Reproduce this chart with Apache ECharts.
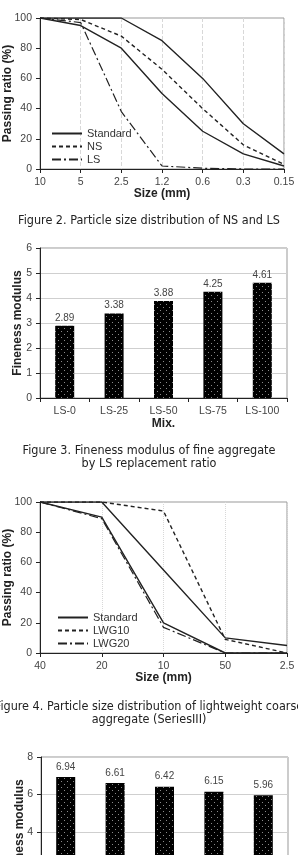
<!DOCTYPE html>
<html lang="en">
<head>
    <meta charset="utf-8">
    <title>ECharts</title>
    <script src="https://cdn.jsdelivr.net/npm/echarts@6/dist/echarts.min.js"></script>
    <style>
        html, body {margin: 0; padding: 0; background: #fff;}
        #main {width: 298px; height: 855px;}
    </style>
</head>
<body>
<div id="main"></div>
<script type="text/javascript">
    // Figure 2 data: fine aggregate grading
    var sizesFine = ['10', '5', '2.5', '1.2', '0.6', '0.3', '0.15'];
    var stdFineUpper = [100, 100, 100, 85, 60, 30, 10];
    var stdFineLower = [100, 95, 80, 50, 25, 10, 2];
    var nsPass = [100, 99, 88, 66, 40, 16, 3];
    var lsPass = [100, 97, 38, 2, 0.5, 0, 0];

    // Figure 3 data: fineness modulus vs LS ratio
    var mixFine = ['LS-0', 'LS-25', 'LS-50', 'LS-75', 'LS-100'];
    var fmFine = [2.89, 3.38, 3.88, 4.25, 4.61];

    // Figure 4 data: lightweight coarse aggregate grading
    var sizesCoarse = ['40', '20', '10', '50', '2.5'];
    var stdCoarseUpper = [100, 100, 55, 10, 5];
    var stdCoarseLower = [100, 90, 20, 0, 0];
    var lwg10Pass = [100, 100, 94, 9, 0];
    var lwg20Pass = [100, 89, 17, 0, 0];

    // bottom (cut off) bar chart
    var mixCoarse = ['A', 'B', 'C', 'D', 'E'];
    var fmCoarse = [6.94, 6.61, 6.42, 6.15, 5.96];

    var font = 'Liberation Sans, Arial, sans-serif';
    var capFont = '"Liberation Sans Narrow", "DejaVu Sans Condensed", "Noto Sans CJK KR", sans-serif';

    // black bar fill with little grey dots
    function dotPattern() {
        var c = document.createElement('canvas');
        c.width = 6; c.height = 6;
        var g = c.getContext('2d');
        g.fillStyle = '#000';
        g.fillRect(0, 0, 6, 6);
        g.fillStyle = '#8a8a8a';
        g.fillRect(1, 1, 1, 1);
        g.fillRect(4, 4, 1, 1);
        return c;
    }
    var dots = {image: dotPattern(), repeat: 'repeat'};

    var axisLbl = {color: '#444', fontSize: 10.5, fontFamily: font};
    var nameStyle = {color: '#222', fontSize: 12, fontWeight: 'bold', fontFamily: font};

    function lineAxisX(idx, data, splitType) {
        return {
            type: 'category', gridIndex: idx, data: data, boundaryGap: false,
            axisLine: {lineStyle: {color: '#222', width: 1}},
            axisTick: {show: true, length: 4, lineStyle: {color: '#222'}},
            axisLabel: axisLbl,
            splitLine: {show: true, lineStyle: {color: '#d8d8d8', type: splitType}},
            name: 'Size (mm)', nameLocation: 'middle', nameGap: 19, nameTextStyle: nameStyle,
            nameMoveOverlap: false
        };
    }
    function barAxisX(idx, data, name) {
        return {
            type: 'category', gridIndex: idx, data: data,
            axisLine: {lineStyle: {color: '#222', width: 1}},
            axisTick: {show: true, length: 4, lineStyle: {color: '#222'}},
            axisLabel: axisLbl,
            name: name, nameLocation: 'middle', nameGap: 20, nameTextStyle: nameStyle,
            nameMoveOverlap: false
        };
    }
    function valAxisY(idx, max, interval, name, split, gap) {
        return {
            type: 'value', gridIndex: idx, min: 0, max: max, interval: interval,
            axisLine: {show: true, lineStyle: {color: '#222', width: 1}},
            axisTick: {show: true, length: 4, lineStyle: {color: '#222'}},
            axisLabel: axisLbl,
            splitLine: {show: split, lineStyle: {color: '#cfcfcf'}},
            name: name, nameLocation: 'middle', nameGap: gap, nameTextStyle: nameStyle,
            nameMoveOverlap: false
        };
    }

    var solid = {color: '#222', width: 1.4, type: 'solid'};
    var dash = {color: '#222', width: 1.4, type: [4, 3]};
    var dashDot = {color: '#222', width: 1.2, type: [9, 3, 2, 3]};

    function lineS(name, x, y, data, ls) {
        return {
            name: name, type: 'line', xAxisIndex: x, yAxisIndex: y, data: data,
            symbol: 'none', lineStyle: ls, itemStyle: {color: '#222'}, z: 3
        };
    }
    function barS(x, y, data, dist) {
        return {
            type: 'bar', xAxisIndex: x, yAxisIndex: y, data: data, barWidth: 19,
            itemStyle: {color: dots},
            label: {show: true, position: 'top', distance: dist, color: '#444', fontSize: 10, fontFamily: font}
        };
    }

    var gridBox = {show: true, borderColor: '#999', borderWidth: 1, backgroundColor: 'transparent',
        containLabel: false, outerBoundsMode: 'none'};

    var legendBase = {
        orient: 'vertical', itemGap: 2, itemWidth: 30, itemHeight: 11,
        itemStyle: {opacity: 0},
        textStyle: {color: '#333', fontSize: 11, fontFamily: font}, selectedMode: false
    };

    var myChart = echarts.init(document.getElementById('main'));
    var option = {
        animation: false,
        backgroundColor: '#fff',
        grid: [
            Object.assign({left: 40, top: 18, width: 244, height: 151}, gridBox),
            Object.assign({left: 40, top: 248, width: 247, height: 150}, gridBox),
            Object.assign({left: 40, top: 502, width: 247, height: 151}, gridBox),
            Object.assign({left: 41, top: 757, width: 247, height: 150}, gridBox)
        ],
        xAxis: [
            lineAxisX(0, sizesFine, 'dashed'),
            barAxisX(1, mixFine, 'Mix.'),
            lineAxisX(2, sizesCoarse, 'dotted'),
            barAxisX(3, mixCoarse, '')
        ],
        yAxis: [
            valAxisY(0, 100, 20, 'Passing ratio (%)', false, 26),
            valAxisY(1, 6, 1, 'Fineness modulus', true, 16),
            valAxisY(2, 100, 20, 'Passing ratio (%)', false, 26),
            valAxisY(3, 8, 2, 'Fineness modulus', true, 15)
        ],
        legend: [
            Object.assign({left: 46, top: 123, data: ['Standard', 'NS', 'LS']}, legendBase),
            Object.assign({left: 52, top: 607, data: ['Standard', 'LWG10', 'LWG20']}, legendBase)
        ],
        series: [
            lineS('Standard', 0, 0, stdFineUpper, solid),
            lineS('Standard', 0, 0, stdFineLower, solid),
            lineS('NS', 0, 0, nsPass, dash),
            lineS('LS', 0, 0, lsPass, dashDot),
            barS(1, 1, fmFine, 3),
            lineS('Standard', 2, 2, stdCoarseUpper, solid),
            lineS('Standard', 2, 2, stdCoarseLower, solid),
            lineS('LWG10', 2, 2, lwg10Pass, dash),
            lineS('LWG20', 2, 2, lwg20Pass, dashDot),
            barS(3, 3, fmCoarse, 5)
        ],
        graphic: [
            {type: 'text', x: 149, y: 221, style: {text: 'Figure 2. Particle size distribution of NS and LS',
                align: 'center', verticalAlign: 'middle', font: '12.5px ' + capFont, fill: '#222'}},
            {type: 'text', x: 149, y: 457, style: {text: 'Figure 3. Fineness modulus of fine aggregate\nby LS replacement ratio',
                align: 'center', verticalAlign: 'middle', font: '12.5px ' + capFont, lineHeight: 13, fill: '#222'}},
            {type: 'text', x: 149, y: 713, style: {text: 'Figure 4. Particle size distribution of lightweight coarse\naggregate (SeriesIII)',
                align: 'center', verticalAlign: 'middle', font: '12.5px ' + capFont, lineHeight: 13, fill: '#222'}}
        ]
    };
    myChart.setOption(option);
</script>
</body>
</html>
